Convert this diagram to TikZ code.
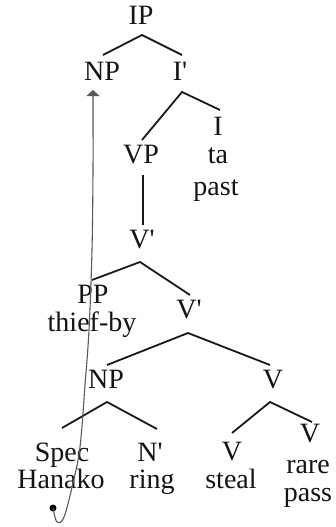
\documentclass[tikz,border=0pt]{standalone}
\usepackage{fontspec}
\setmainfont{Liberation Serif}
\usetikzlibrary{arrows.meta}
\newcommand{\pr}{\textquotesingle}
\begin{document}
\begin{tikzpicture}[x=1pt,y=-1pt,
  lbl/.style={anchor=base,inner sep=0pt,font=\fontsize{28}{29}\selectfont,text=black!92},
  branch/.style={line width=1.8pt,black!90},
  movearrow/.style={line width=1.1pt,black!65,-{Triangle[width=13pt,length=6pt]}}]
\useasboundingbox (0,0) rectangle (336,527);
\fill[white] (0,0) rectangle (336,527);

% category labels and words (placed on their baselines)
\node[lbl] (ip)     at (141,25)  {IP};
\node[lbl] (np1)    at (102,80)  {NP};
\node[lbl] (ibar)   at (180,80)  {I\pr};
\node[lbl] (infl)   at (218,135) {I};
\node[lbl] (vp)     at (141,163) {VP};
\node[lbl] (ta)     at (218,163) {ta};
\node[lbl] (past)   at (216,195) {past};
\node[lbl] (vbar1)  at (142,248) {V\pr};
\node[lbl] (pp)     at (93,303)  {PP};
\node[lbl] (thief)  at (92,331)  {thief-by};
\node[lbl] (vbar2)  at (189,318) {V\pr};
\node[lbl] (np2)    at (106,388) {NP};
\node[lbl] (vc)     at (273,388) {V};
\node[lbl] (spec)   at (62,461)  {Spec};
\node[lbl] (hanako) at (61,488)  {Hanako};
\node[lbl] (nbar)   at (150,461) {N\pr};
\node[lbl] (ring)   at (152,488) {ring};
\node[lbl] (vsteal) at (232,460) {V};
\node[lbl] (steal)  at (231,488) {steal};
\node[lbl] (vrare)  at (310,442) {V};
\node[lbl] (rare)   at (308,473) {rare};
\node[lbl] (pass)   at (308,501) {pass};

% branch points of the tree
\coordinate (ipA)   at (142,35);
\coordinate (ipL)   at (103,55);
\coordinate (ipR)   at (182,55);
\coordinate (ibA)   at (182,92);
\coordinate (ibL)   at (142,140);
\coordinate (ibR)   at (220,110);
\coordinate (vpT)   at (143,175);
\coordinate (vpB)   at (143,225);
\coordinate (vb1A)  at (140,262);
\coordinate (vb1L)  at (92,280);
\coordinate (vb1R)  at (190,295);
\coordinate (vb2A)  at (188,333);
\coordinate (vb2L)  at (107,365);
\coordinate (vb2R)  at (270,365);
\coordinate (np2A)  at (107,402);
\coordinate (np2L)  at (62,428);
\coordinate (np2R)  at (157,429);
\coordinate (vcA)   at (270,402);
\coordinate (vcL)   at (232,433);
\coordinate (vcR)   at (312,422);

\draw[branch] (ipL) -- (ipA) -- (ipR);
\draw[branch] (ibL) -- (ibA) -- (ibR);
\draw[branch] (vpT) -- (vpB);
\draw[branch] (vb1L) -- (vb1A) -- (vb1R);
\draw[branch] (vb2L) -- (vb2A) -- (vb2R);
\draw[branch] (np2L) -- (np2A) -- (np2R);
\draw[branch] (vcL) -- (vcA) -- (vcR);

% trace and movement to the subject position
\node[circle,fill=black,inner sep=0pt,minimum size=7pt] (trace) at (53,508) {};
\coordinate (landing) at (93,90);
\draw[movearrow] plot[smooth,tension=0.6] coordinates
  {(trace) (57,522) (64,517) (73,483) (80,447) (85,385) (89,330) (92,250) (93,170) (93,120) (landing)};
\end{tikzpicture}
\end{document}
